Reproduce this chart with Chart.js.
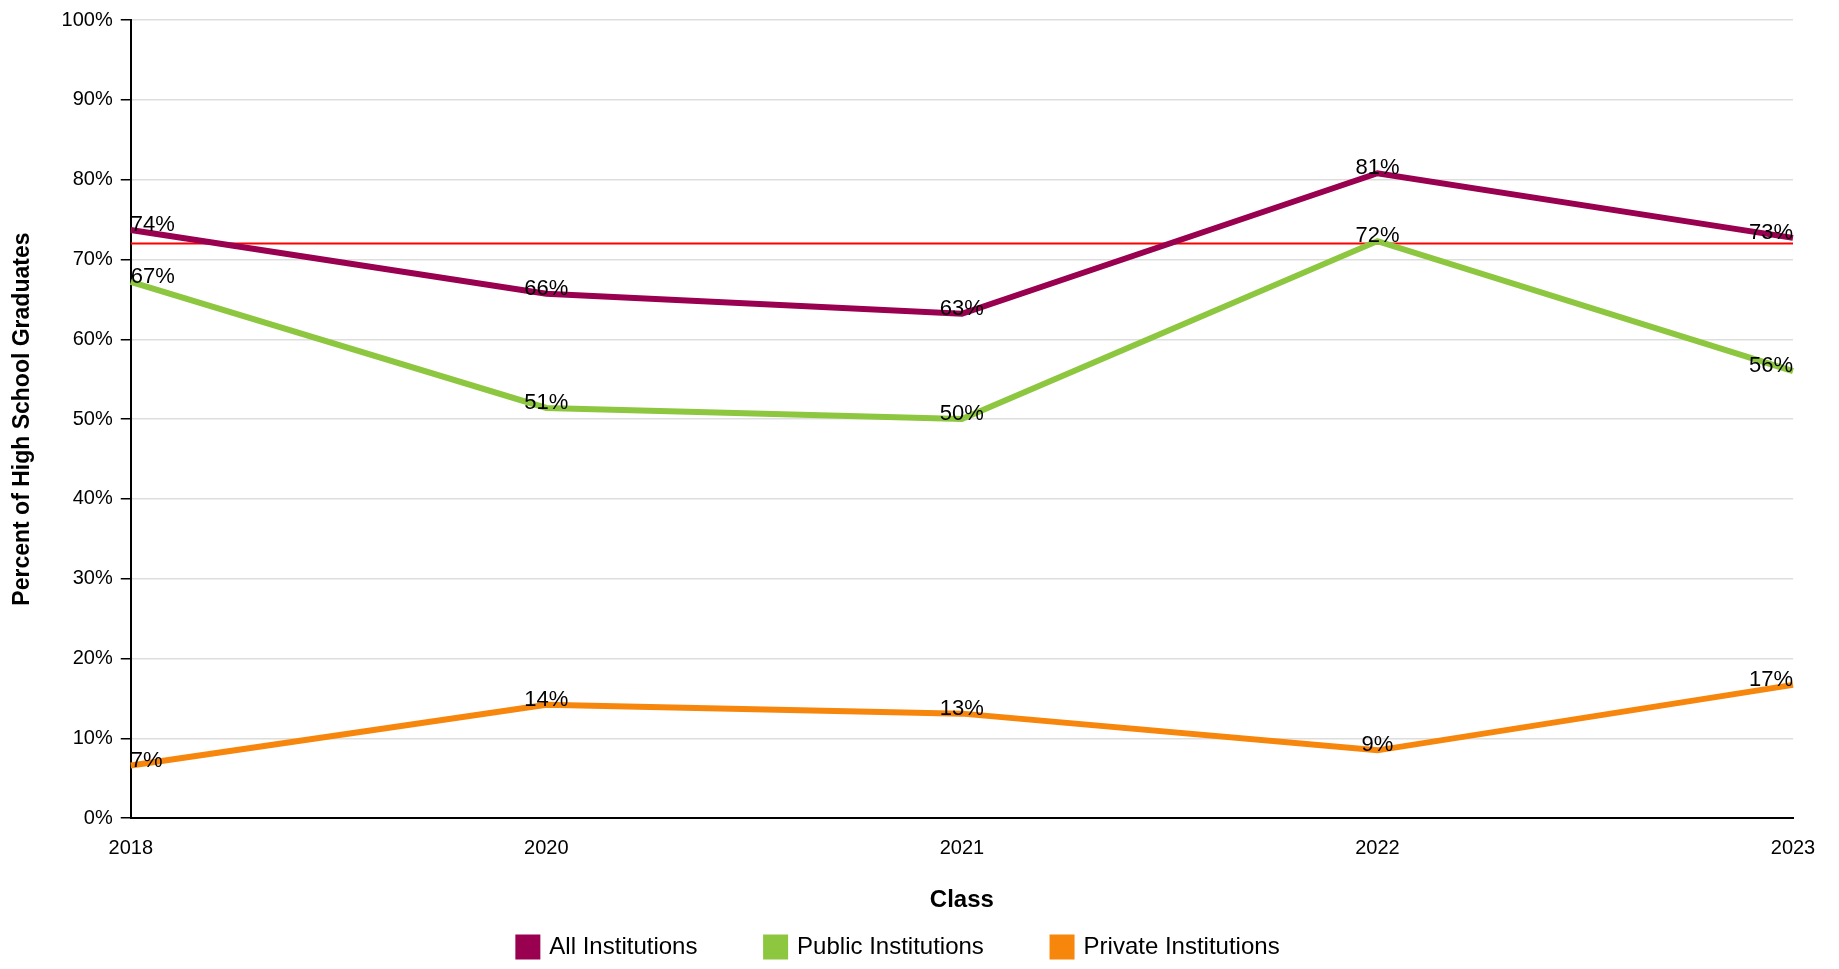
<!DOCTYPE html>
<html>
<head>
<meta charset="utf-8">
<script src="https://cdn.jsdelivr.net/npm/chart.js@4"></script>
<style>
  body { margin: 0; background: #fff; }
  #wrap { width: 1839px; height: 969px; }
</style>
</head>
<body>
<div id="wrap"><canvas id="lineChart"></canvas></div>
<script>
var classes = ["2018", "2020", "2021", "2022", "2023"];
var allInst = [73.7, 65.7, 63.2, 80.8, 72.7];
var publicInst = [67.2, 51.4, 50.0, 72.3, 56.0];
var privateInst = [6.6, 14.2, 13.1, 8.5, 16.7];
var refLine = [72, 72, 72, 72, 72];
var yTicks = [0, 10, 20, 30, 40, 50, 60, 70, 80, 90, 100];

// étiquettes de valeurs au-dessus des points
var labelPlugin = {
  id: 'valueLabels',
  afterDatasetsDraw: function (chart) {
    var ctx = chart.ctx;
    ctx.save();
    ctx.font = '22px "Liberation Sans", Arial, sans-serif';
    ctx.fillStyle = '#000';
    ctx.textBaseline = 'bottom';
    chart.data.datasets.forEach(function (ds, i) {
      if (ds.noLabels) return;
      chart.getDatasetMeta(i).data.forEach(function (pt, j) {
        var last = ds.data.length - 1;
        ctx.textAlign = j === 0 ? 'left' : (j === last ? 'right' : 'center');
        ctx.fillText(Math.round(ds.data[j]) + '%', pt.x, pt.y + 6);
      });
    });
    ctx.restore();
  }
};

var font = { family: '"Liberation Sans", Arial, sans-serif', size: 20 };
var gap = '          ';

var ctx = document.getElementById('lineChart').getContext('2d');
var chart = new Chart(ctx, {
  type: 'line',
  data: {
    labels: classes,
    datasets: [
      { label: 'All Institutions', data: allInst, borderColor: '#990050', backgroundColor: '#990050', borderWidth: 6 },
      { label: 'Public Institutions', data: publicInst, borderColor: '#8dc63f', backgroundColor: '#8dc63f', borderWidth: 6 },
      { label: 'Private Institutions', data: privateInst, borderColor: '#f7860d', backgroundColor: '#f7860d', borderWidth: 6 },
      { label: 'ref', data: refLine, borderColor: '#ff0000', borderWidth: 2, noLabels: true }
    ]
  },
  options: {
    responsive: true,
    maintainAspectRatio: false,
    animation: false,
    elements: { point: { radius: 0, hoverRadius: 0 }, line: { tension: 0 } },
    layout: { padding: { left: 5, right: 46, top: 12, bottom: 0 } },
    plugins: {
      tooltip: { enabled: false },
      legend: {
        position: 'bottom',
        labels: {
          font: { family: font.family, size: 24 },
          color: '#000',
          boxWidth: 19,
          boxHeight: 19,
          padding: 2,
          generateLabels: function (chart) {
            var items = Chart.defaults.plugins.legend.labels.generateLabels(chart);
            items = items.filter(function (it) { return it.text !== 'ref'; });
            items.forEach(function (it, k) { if (k < items.length - 1) it.text = it.text + gap; });
            return items;
          }
        }
      }
    },
    scales: {
      x: {
        offset: false,
        grid: { display: false, drawTicks: true, tickLength: 10, color: '#000' },
        border: { color: '#000', width: 2 },
        ticks: { color: '#000', font: font, maxRotation: 0, padding: 8 },
        title: { display: true, text: 'Class', color: '#000', font: { family: font.family, size: 24, weight: 'bold' }, padding: { top: 18, bottom: 18 } }
      },
      y: {
        min: 0, max: 100,
        afterBuildTicks: function (axis) { axis.ticks = yTicks.map(function (v) { return { value: v }; }); },
        grid: { color: '#dddddd', lineWidth: 1.5, tickColor: '#000', tickLength: 10 },
        border: { color: '#000', width: 2 },
        ticks: { color: '#000', font: font, padding: 8, callback: function (v) { return v + '%'; } },
        title: { display: true, text: 'Percent of High School Graduates', color: '#000', font: { family: font.family, size: 23, weight: 'bold' }, padding: { top: 4, bottom: 17 } }
      }
    }
  },
  plugins: [labelPlugin]
});
</script>
</body>
</html>
